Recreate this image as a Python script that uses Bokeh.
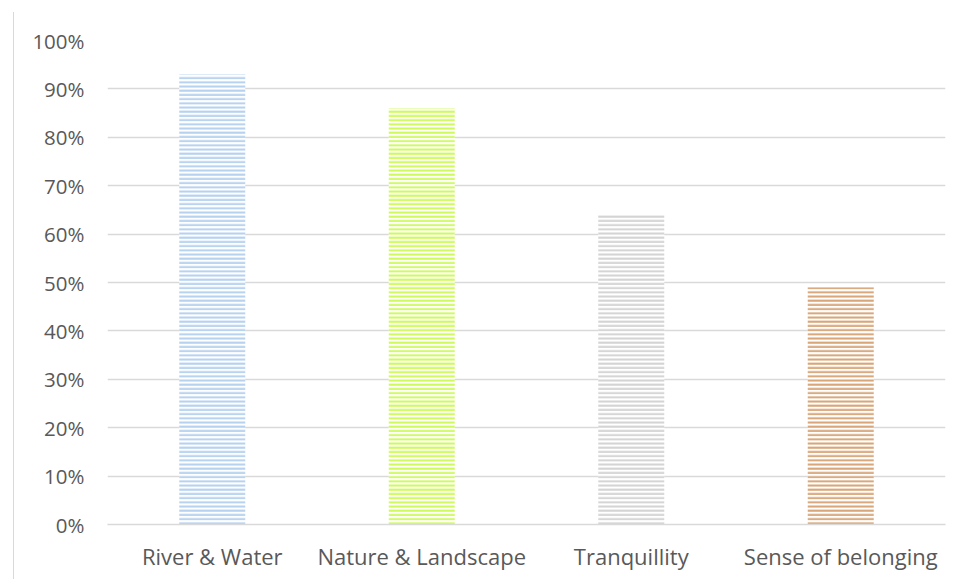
from bokeh.plotting import figure
from bokeh.layouts import row, column
from bokeh.models import (ColumnDataSource, Range1d, FactorRange, FixedTicker,
                          NumeralTickFormatter, Spacer)
from bokeh.embed import file_html
from bokeh.resources import INLINE

# Share of respondents mentioning each theme
categories = ["River & Water", "Nature & Landscape", "Tranquillity", "Sense of belonging"]
shares = [0.93, 0.86, 0.64, 0.49]
bar_colors = ["#b4d1ee", "#cdfb55", "#d3d3d3", "#d7a476"]
y_ticks = [0.0, 0.1, 0.2, 0.3, 0.4, 0.5, 0.6, 0.7, 0.8, 0.9, 1.0]

FONT = "Open Sans"
TEXT_COLOR = "#595959"
GRID_COLOR = "#d9d9d9"

source = ColumnDataSource(dict(cat=categories, share=shares, color=bar_colors))

p = figure(
    width=956, height=567,
    x_range=FactorRange(*categories),
    y_range=Range1d(0, 1),
    output_backend="svg",
    toolbar_location=None,
    min_border_left=93, min_border_right=25,
    min_border_top=28, min_border_bottom=55,
)
p.outline_line_color = None
p.background_fill_color = "white"
p.border_fill_color = "white"
# thin rule down the left edge of the chart area
p.styles = {"border-left": "1.3px solid #d9d9d9"}

p.vbar(
    x="cat", top="share", width=0.315, source=source,
    fill_color="white", line_color=None,
    hatch_pattern="horizontal_line", hatch_color="color",
    hatch_scale=4.2, hatch_weight=2.0,
)

# Gridlines
p.xgrid.grid_line_color = None
p.ygrid.ticker = FixedTicker(ticks=y_ticks)
p.ygrid.grid_line_color = GRID_COLOR
p.ygrid.grid_line_width = 1.3

# Y axis: percentages, no line or ticks
p.yaxis.ticker = FixedTicker(ticks=y_ticks)
p.yaxis.formatter = NumeralTickFormatter(format="0%")
p.yaxis.axis_line_color = None
p.yaxis.major_tick_line_color = None
p.yaxis.minor_tick_line_color = None
p.yaxis.major_label_standoff = 17
p.yaxis.major_label_text_font = FONT
p.yaxis.major_label_text_font_size = "20.5px"
p.yaxis.major_label_text_color = TEXT_COLOR

# X axis: category names under the baseline
p.xaxis.axis_line_color = GRID_COLOR
p.xaxis.axis_line_width = 1.3
p.xaxis.major_tick_line_color = None
p.xaxis.minor_tick_line_color = None
p.xaxis.major_label_standoff = 10
p.xaxis.major_label_text_font = FONT
p.xaxis.major_label_text_font_size = "22px"
p.xaxis.major_label_text_color = TEXT_COLOR

layout = row(Spacer(width=13), column(Spacer(height=12), p))

open("out.html", "w").write(file_html(layout, INLINE))
